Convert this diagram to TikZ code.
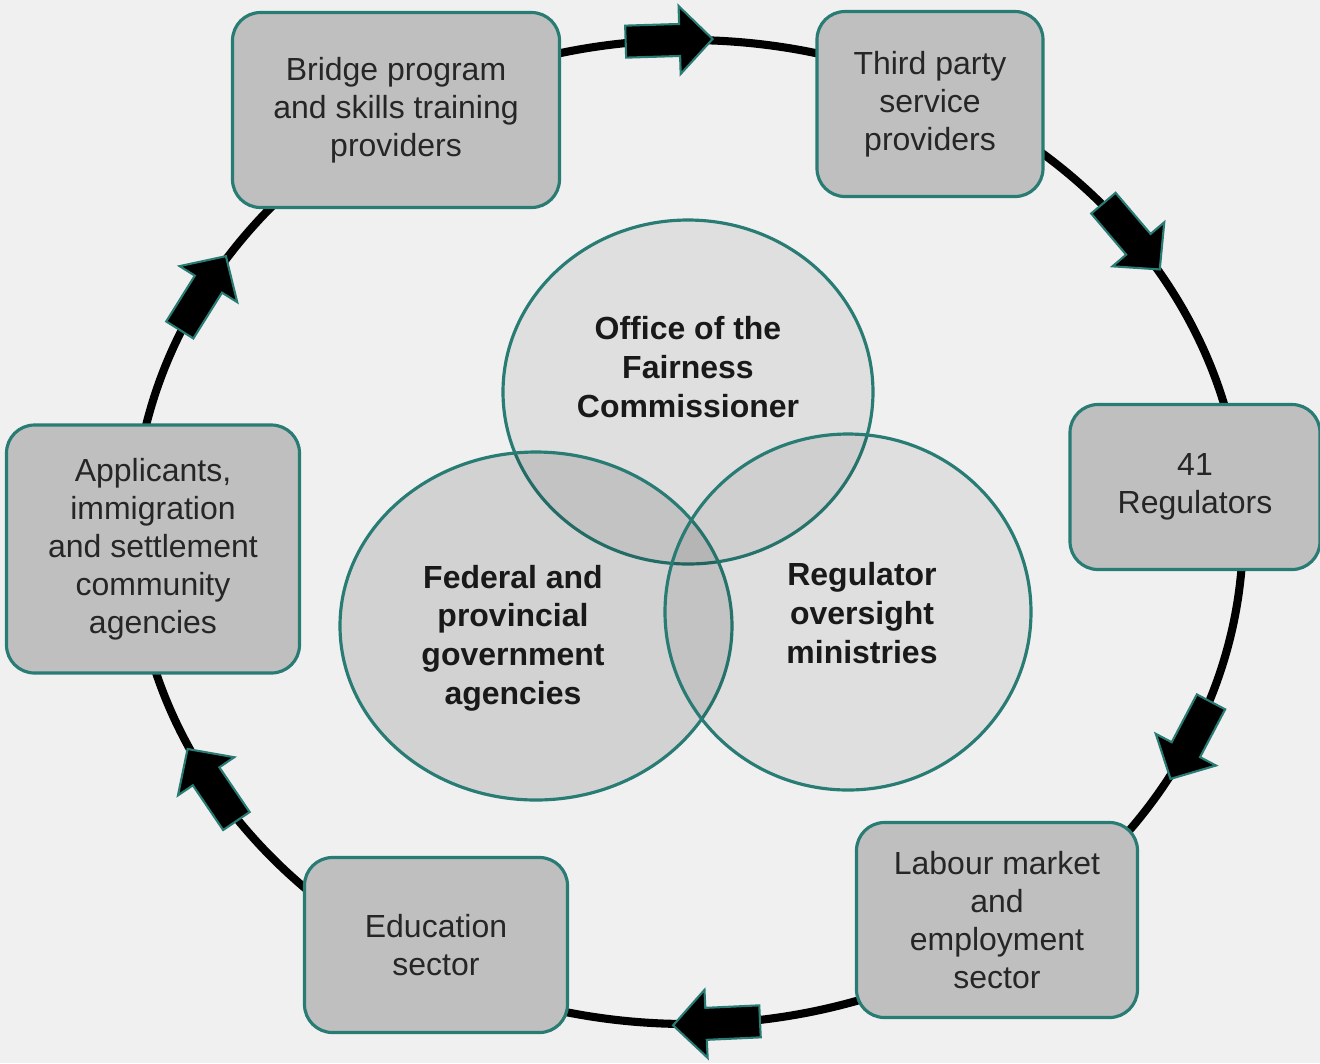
\documentclass[tikz,border=0pt]{standalone}
\usepackage{fontspec}
\setmainfont{Liberation Sans}
\usetikzlibrary{shapes.geometric}

\definecolor{ringteal}{RGB}{40,124,116}

\tikzset{
  player/.style={draw=ringteal, line width=0.9pt, fill=black!25, rounded corners=2.8mm,
    align=center, text=black!85, inner sep=0pt, font=\fontsize{9.1}{10.8}\selectfont},
  bubble/.style={ellipse, draw=ringteal, line width=0.9pt, fill=black, fill opacity=0.07, inner sep=0pt},
  bubbletext/.style={align=center, text=black!90, font=\bfseries\fontsize{9.1}{11}\selectfont},
  ringarrow/.style={draw=ringteal, fill=black, line width=0.6pt, line join=miter},
}

\begin{document}
\begin{tikzpicture}[x=0.1mm, y=-0.1mm]
  \useasboundingbox (0,0) rectangle (1320,1063);
  \fill[black!6] (0,0) rectangle (1320,1063);

  % the cycle
  \draw[line width=2.3pt] (688,532) ellipse [x radius=555, y radius=492];
  \foreach \t in {92,37,335,273,211,151} {
    \pgfmathsetmacro\ang{atan2(-492*cos(\t), 555*sin(\t))}
    \draw[ringarrow, shift={({688+555*cos(\t)}, {532-492*sin(\t)})}, rotate=\ang]
      (-43,-16) -- (11,-16) -- (11,-34) -- (44,0) -- (11,34) -- (11,16) -- (-43,16) -- cycle;
  }

  % stakeholders around the cycle
  \node[player, minimum width=32.7mm, minimum height=19.5mm] (bridge) at (396,110) {Bridge program\\and skills training\\providers};
  \node[player, minimum width=22.6mm, minimum height=18.5mm] (thirdparty) at (930,104) {Third party\\service\\providers};
  \node[player, minimum width=25mm, minimum height=16.5mm] (regulators) at (1195,487) {41\\Regulators};
  \node[player, minimum width=28.1mm, minimum height=19.5mm] (labour) at (997,920) {Labour market\\and\\employment\\sector};
  \node[player, minimum width=26.3mm, minimum height=17.5mm] (education) at (436,945) {Education\\sector};
  \node[player, minimum width=29.3mm, minimum height=24.8mm] (applicants) at (153,549) {Applicants,\\immigration\\and settlement\\community\\agencies};

  % overlapping bodies in the middle
  \node[bubble, minimum width=37mm, minimum height=34.4mm] (office) at (688,392) {};
  \node[bubble, fill opacity=0.12, minimum width=39.2mm, minimum height=34.8mm] (federal) at (536,626) {};
  \node[bubble, minimum width=36.6mm, minimum height=35.6mm] (oversight) at (848,612) {};

  \node[bubbletext] (officetext) at (688,367) {Office of the\\Fairness\\Commissioner};
  \node[bubbletext] (federaltext) at (513,638) {Federal and\\provincial\\government\\agencies};
  \node[bubbletext] (oversighttext) at (862,613) {Regulator\\oversight\\ministries};
\end{tikzpicture}
\end{document}
